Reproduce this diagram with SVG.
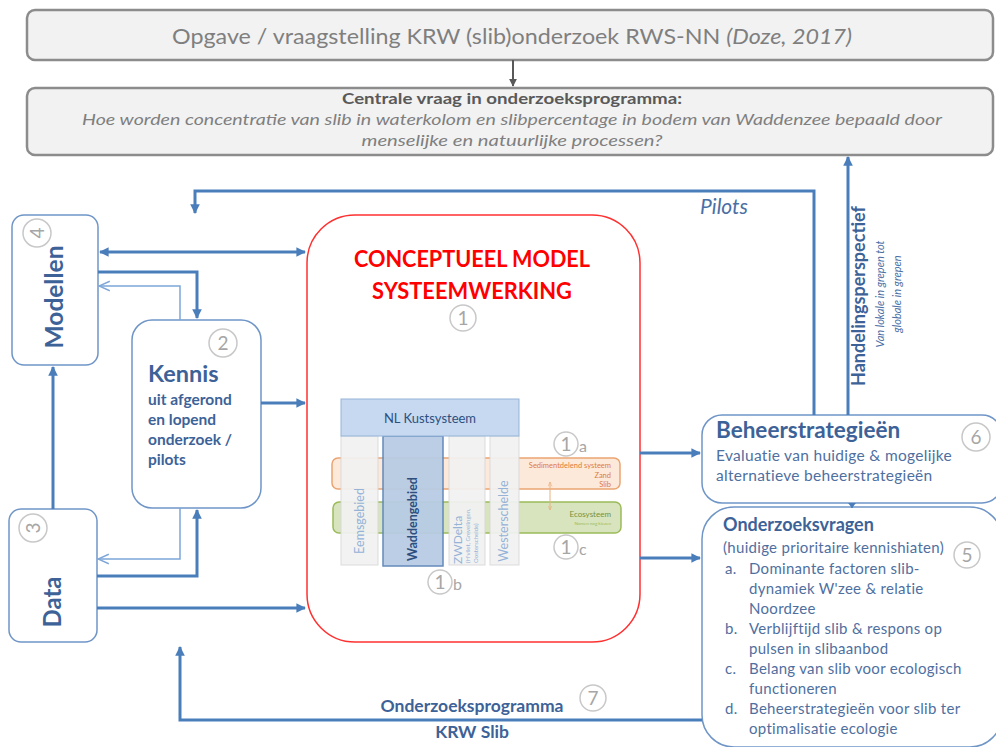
<svg xmlns="http://www.w3.org/2000/svg" width="996" height="747" viewBox="0 0 996 747">
<defs>
<marker id="ah" viewBox="0 0 10 10" refX="9" refY="5" markerWidth="3.2" markerHeight="3.2" orient="auto-start-reverse"><path d="M0,0 L10,5 L0,10 z" fill="#4a7ebb"/></marker>
<marker id="ahg" viewBox="0 0 10 10" refX="9" refY="5" markerWidth="4" markerHeight="4" orient="auto"><path d="M0,0 L10,5 L0,10 z" fill="#595959"/></marker>
<marker id="ao" viewBox="0 0 10 10" refX="9" refY="5" markerWidth="8" markerHeight="8" orient="auto"><path d="M0,1 L9,5 L0,9" fill="none" stroke="#7ea6d8" stroke-width="1.2"/></marker>
<marker id="as" viewBox="0 0 10 10" refX="9" refY="5" markerWidth="5" markerHeight="5" orient="auto-start-reverse"><path d="M0,1 L9,5 L0,9" fill="none" stroke="#e8b080" stroke-width="1.2"/></marker>
<style>
text{font-family:Lato,"Liberation Sans",sans-serif}
.gbox{fill:#f2f2f2;stroke:#8c8c8c;stroke-width:2.5}
.node{fill:#fff;stroke:#6f95c7;stroke-width:1.5}
.thick{fill:none;stroke:#4a7ebb;stroke-width:3}
.thin{fill:none;stroke:#7ea6d8;stroke-width:1.5}
.num circle{fill:#fff;stroke:#c8c8c8;stroke-width:1.5}
.num text{fill:#a6a6a6;font-size:19px;text-anchor:middle}
.bt{fill:#3d6298;font-weight:bold}
.lt{fill:#4f6f9f;font-size:15px;letter-spacing:0.3px}
.col{fill:#f2f2f2;stroke:#d9d9d9;stroke-width:1;opacity:0.93}
</style>
</defs>

<g id="opgave">
<rect class="gbox" x="27" y="10" width="966" height="50" rx="8"/>
<text x="512" y="44" font-size="21" fill="#7f7f7f" text-anchor="middle" textLength="680" lengthAdjust="spacingAndGlyphs">Opgave / vraagstelling KRW (slib)onderzoek RWS-NN <tspan font-style="italic">(Doze, 2017)</tspan></text>
</g>

<g id="centrale-vraag">
<rect class="gbox" x="27" y="88" width="966" height="67" rx="8"/>
<text x="512" y="104" font-size="14.5" font-weight="bold" fill="#595959" text-anchor="middle" textLength="340" lengthAdjust="spacingAndGlyphs">Centrale vraag in onderzoeksprogramma:</text>
<text x="512" y="125" font-size="16" font-style="italic" fill="#7f7f7f" text-anchor="middle" textLength="860" lengthAdjust="spacingAndGlyphs">Hoe worden concentratie van slib in waterkolom en slibpercentage in bodem van Waddenzee bepaald door</text>
<text x="512" y="146" font-size="16" font-style="italic" fill="#7f7f7f" text-anchor="middle" textLength="301" lengthAdjust="spacingAndGlyphs">menselijke en natuurlijke processen?</text>
</g>

<g id="modellen">
<rect class="node" x="12" y="215" width="86" height="150" rx="12"/>
<g class="num"><circle cx="37" cy="233" r="14"/><text x="37" y="240" transform="rotate(-90 37 233)">4</text></g>
<text class="bt" x="63" y="297" font-size="24.5" text-anchor="middle" transform="rotate(-90 63 297)">Modellen</text>
</g>

<g id="kennis">
<rect class="node" x="132" y="320" width="129" height="188" rx="20"/>
<g class="num"><circle cx="223" cy="343" r="14"/><text x="223" y="350">2</text></g>
<text class="bt" x="148" y="382" font-size="23.5">Kennis</text>
<text class="bt" font-size="15.5"><tspan x="148" y="405">uit afgerond</tspan><tspan x="148" y="425">en lopend</tspan><tspan x="148" y="445">onderzoek /</tspan><tspan x="148" y="465">pilots</tspan></text>
</g>

<g id="data">
<rect class="node" x="9" y="509" width="88" height="133" rx="12"/>
<g class="num"><circle cx="33" cy="528" r="14"/><text x="33" y="535" transform="rotate(-90 33 528)">3</text></g>
<text class="bt" x="61" y="602" font-size="24" text-anchor="middle" transform="rotate(-90 61 602)">Data</text>
</g>

<g id="conceptueel-model">
<rect x="307" y="215" width="333" height="427" rx="48" fill="#fff" stroke="#ff3030" stroke-width="1.5"/>
<text x="472" y="267" font-size="22" font-weight="bold" fill="#ff0000" text-anchor="middle" textLength="236" lengthAdjust="spacingAndGlyphs">CONCEPTUEEL MODEL</text>
<text x="472" y="299" font-size="22" font-weight="bold" fill="#ff0000" text-anchor="middle" textLength="200" lengthAdjust="spacingAndGlyphs">SYSTEEMWERKING</text>
<g class="num"><circle cx="463" cy="318" r="13"/><text x="463" y="325">1</text></g>

<rect x="332" y="458" width="288" height="31" rx="6" fill="#fde9d9" stroke="#eaa472" stroke-width="1.5"/>
<rect x="333" y="502" width="288" height="31" rx="6" fill="#d7e4bd" stroke="#9bbb59" stroke-width="1.5"/>
<g font-size="7.5" text-anchor="end" fill="#e07b39">
<text x="611" y="468">Sedimentdelend systeem</text>
<text x="611" y="478">Zand</text>
<text x="611" y="487">Slib</text>
</g>
<text x="611" y="517" font-size="8" text-anchor="end" fill="#76923c">Ecosysteem</text>
<text x="611" y="525" font-size="4.5" text-anchor="end" fill="#9bbb59">Namen nog kiezen</text>
<line x1="550" y1="482" x2="550" y2="510" stroke="#e8b080" stroke-width="1" marker-start="url(#as)" marker-end="url(#as)"/>

<rect class="col" x="341" y="436" width="37" height="129"/>
<rect x="383" y="436" width="60" height="130" fill="#b8cce4" stroke="#5b84b8" stroke-width="1.5" opacity="0.95"/>
<rect class="col" x="449" y="436" width="36" height="129"/>
<rect class="col" x="490" y="436" width="29" height="129"/>
<rect x="341" y="399" width="178" height="37" fill="#c6d9f1" stroke="#95b3d7" stroke-width="1"/>
<text x="430" y="423" font-size="13" fill="#2e4f7e" text-anchor="middle">NL Kustsysteem</text>

<text x="364" y="521" font-size="12.5" fill="#95b3d7" text-anchor="middle" transform="rotate(-90 364 521)">Eemsgebied</text>
<text x="417" y="519" font-size="12.5" font-weight="bold" fill="#2e4f7e" text-anchor="middle" transform="rotate(-90 417 519)">Waddengebied</text>
<text x="462" y="564" font-size="12" fill="#95b3d7" transform="rotate(-90 462 564)">ZWDelta</text>
<text font-size="6" fill="#95b3d7" transform="rotate(-90 470 563)"><tspan x="470" y="563">(H'vliet, Grevelingen,</tspan><tspan x="470" y="571">Oosterschelde)</tspan></text>
<text x="508" y="521" font-size="12.5" fill="#95b3d7" text-anchor="middle" transform="rotate(-90 508 521)">Westerschelde</text>

<g class="num"><circle cx="566" cy="444" r="12"/><text x="566" y="451" font-size="17">1</text></g>
<text x="579" y="452" font-size="16" fill="#a6a6a6">a</text>
<g class="num"><circle cx="566" cy="547" r="12"/><text x="566" y="554" font-size="17">1</text></g>
<text x="579" y="555" font-size="16" fill="#a6a6a6">c</text>
<g class="num"><circle cx="440" cy="582" r="12"/><text x="440" y="589" font-size="17">1</text></g>
<text x="453" y="590" font-size="16" fill="#a6a6a6">b</text>
</g>

<g id="beheerstrategieen">
<rect class="node" x="702" y="415" width="300" height="88" rx="20"/>
<text class="bt" x="716" y="438" font-size="22.5">Beheerstrategieën</text>
<g class="num"><circle cx="976" cy="437" r="14"/><text x="976" y="444">6</text></g>
<text class="lt" x="716" y="461" style="font-size:15.5px">Evaluatie van huidige &amp; mogelijke</text>
<text class="lt" x="716" y="481" style="font-size:15.5px">alternatieve beheerstrategieën</text>
</g>

<g id="onderzoeksvragen">
<rect class="node" x="702" y="507" width="300" height="240" rx="32"/>
<text class="bt" x="723" y="531" font-size="18">Onderzoeksvragen</text>
<text class="lt" x="723" y="553">(huidige prioritaire kennishiaten)</text>
<g class="num"><circle cx="967" cy="555" r="13"/><text x="967" y="562">5</text></g>
<g class="lt">
<text x="725" y="574">a.</text>
<text><tspan x="749" y="574">Dominante factoren slib-</tspan><tspan x="749" y="594">dynamiek W'zee &amp; relatie</tspan><tspan x="749" y="614">Noordzee</tspan></text>
<text x="725" y="634">b.</text>
<text><tspan x="749" y="634">Verblijftijd slib &amp; respons op</tspan><tspan x="749" y="654">pulsen in slibaanbod</tspan></text>
<text x="725" y="674">c.</text>
<text><tspan x="749" y="674">Belang van slib voor ecologisch</tspan><tspan x="749" y="694">functioneren</tspan></text>
<text x="725" y="714">d.</text>
<text><tspan x="749" y="714">Beheerstrategieën voor slib ter</tspan><tspan x="749" y="734">optimalisatie ecologie</tspan></text>
</g>
</g>

<g id="connectors">
<line x1="513" y1="60" x2="513" y2="86" stroke="#595959" stroke-width="2" marker-end="url(#ahg)"/>
<line class="thick" x1="848" y1="415" x2="848" y2="157" marker-end="url(#ah)"/>
<polyline class="thick" points="814,415 814,191 195,191 195,213" marker-end="url(#ah)"/>
<line class="thick" x1="100" y1="252" x2="305" y2="252" marker-start="url(#ah)" marker-end="url(#ah)"/>
<polyline class="thick" points="98,272 197,272 197,318" marker-end="url(#ah)"/>
<polyline class="thin" points="180,320 180,286 99,286" marker-end="url(#ao)"/>
<line class="thick" x1="261" y1="403" x2="305" y2="403" marker-end="url(#ah)"/>
<line class="thick" x1="53" y1="509" x2="53" y2="367" marker-end="url(#ah)"/>
<polyline class="thin" points="180,508 180,559 98,559" marker-end="url(#ao)"/>
<polyline class="thick" points="97,576 197,576 197,510" marker-end="url(#ah)"/>
<line class="thick" x1="97" y1="608" x2="305" y2="608" marker-end="url(#ah)"/>
<polyline class="thick" points="702,720 180,720 180,647" marker-end="url(#ah)"/>
<line class="thick" x1="640" y1="453" x2="700" y2="453" marker-end="url(#ah)"/>
<line class="thick" x1="640" y1="558" x2="700" y2="558" marker-end="url(#ah)"/>
<line x1="852" y1="503" x2="852" y2="508" stroke="#4a7ebb" stroke-width="1.5"/>
<path d="M848,503 L856,503 L852,508 z" fill="#4a7ebb"/>
</g>

<g id="labels">
<text x="724" y="214" font-size="21" font-style="italic" fill="#4a6fa5" text-anchor="middle">Pilots</text>
<text class="bt" x="865" y="296" font-size="18" text-anchor="middle" transform="rotate(-90 865 296)">Handelingsperspectief</text>
<text font-size="11" font-style="italic" fill="#4a6fa5" text-anchor="middle" transform="rotate(-90 884 294)"><tspan x="884" y="294">Van lokale in grepen tot</tspan><tspan x="884" y="311">globale in grepen</tspan></text>
<text class="bt" x="472" y="712" font-size="17.5" text-anchor="middle">Onderzoeksprogramma</text>
<text class="bt" x="472" y="738" font-size="17.5" text-anchor="middle">KRW Slib</text>
<g class="num"><circle cx="593" cy="698" r="13"/><text x="593" y="705">7</text></g>
</g>
</svg>
